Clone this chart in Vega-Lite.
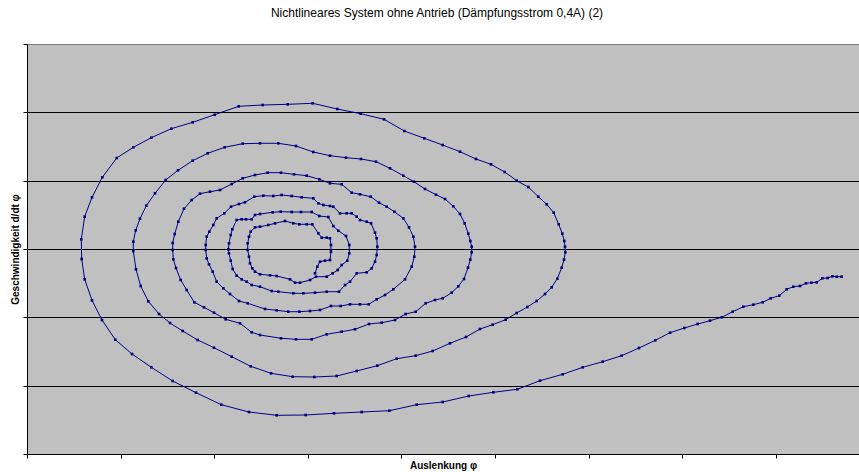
{
  "$schema": "https://vega.github.io/schema/vega-lite/v6.json",
  "width": 832,
  "height": 410,
  "autosize": "none",
  "padding": {"left": 27, "top": 44, "right": 0, "bottom": 18},
  "background": "white",
  "config": {
    "view": {"fill": "#C0C0C0", "stroke": "#808080", "strokeWidth": 1},
    "font": "Liberation Sans"
  },
  "title": {
    "text": "Nichtlineares System ohne Antrieb (Dämpfungsstrom 0,4A) (2)",
    "fontSize": 12,
    "fontWeight": "normal",
    "font": "Liberation Sans",
    "color": "black",
    "offset": 24,
    "dx": -6
  },
  "data": {
    "values": [
      {"o":0,"x":814.7,"y":-27.7},{"o":1,"x":809.7,"y":-27.7},{"o":2,"x":805.3,"y":-27.3},{"o":3,"x":800.7,"y":-29},{"o":4,"x":795.3,"y":-29.3},
      {"o":5,"x":789.7,"y":-33.3},{"o":6,"x":784.3,"y":-33.7},{"o":7,"x":779,"y":-34.3},{"o":8,"x":773,"y":-37},{"o":9,"x":766.3,"y":-37.7},
      {"o":10,"x":759.7,"y":-40.3},{"o":11,"x":752.3,"y":-46.7},{"o":12,"x":743.7,"y":-49.3},{"o":13,"x":735.7,"y":-53.3},{"o":14,"x":726.3,"y":-55.7},
      {"o":15,"x":716.3,"y":-57.7},{"o":16,"x":705.7,"y":-62.7},{"o":17,"x":694.7,"y":-68.3},{"o":18,"x":683,"y":-71.7},{"o":19,"x":670.7,"y":-75},
      {"o":20,"x":657.3,"y":-79},{"o":21,"x":643,"y":-83.7},{"o":22,"x":628.3,"y":-91.3},{"o":23,"x":612,"y":-99},{"o":24,"x":594.7,"y":-106.7},
      {"o":25,"x":575.7,"y":-112.7},{"o":26,"x":555.7,"y":-118.3},{"o":27,"x":535.7,"y":-125.3},{"o":28,"x":513,"y":-131.7},{"o":29,"x":490.3,"y":-140.3},
      {"o":30,"x":466.3,"y":-143.3},{"o":31,"x":441.7,"y":-147},{"o":32,"x":415.7,"y":-153},{"o":33,"x":389.7,"y":-155.7},{"o":34,"x":362.3,"y":-161.7},
      {"o":35,"x":334.7,"y":-163},{"o":36,"x":307,"y":-164.3},{"o":37,"x":278.7,"y":-166},{"o":38,"x":249.7,"y":-166.3},{"o":39,"x":222,"y":-163},
      {"o":40,"x":194.3,"y":-155.7},{"o":41,"x":169,"y":-143.7},{"o":42,"x":145.7,"y":-132},{"o":43,"x":124.3,"y":-118.3},{"o":44,"x":105,"y":-105},
      {"o":45,"x":88.3,"y":-90.7},{"o":46,"x":75,"y":-71},{"o":47,"x":65,"y":-51.3},{"o":48,"x":57.7,"y":-30.3},{"o":49,"x":54.7,"y":-10},
      {"o":50,"x":54.3,"y":9.7},{"o":51,"x":57.7,"y":32.3},{"o":52,"x":65,"y":51.7},{"o":53,"x":75.3,"y":71.7},{"o":54,"x":89.7,"y":91},
      {"o":55,"x":106.3,"y":101.7},{"o":56,"x":124.3,"y":111.3},{"o":57,"x":144.3,"y":120.3},{"o":58,"x":165.7,"y":126.7},{"o":59,"x":187.7,"y":134.3},
      {"o":60,"x":211.7,"y":142.7},{"o":61,"x":235.7,"y":144},{"o":62,"x":260.7,"y":144.7},{"o":63,"x":285.7,"y":145.7},{"o":64,"x":310.3,"y":140},
      {"o":65,"x":333.7,"y":135.3},{"o":66,"x":357,"y":129.7},{"o":67,"x":377.3,"y":118},{"o":68,"x":397.3,"y":110.7},{"o":69,"x":415.7,"y":104},
      {"o":70,"x":433,"y":97.3},{"o":71,"x":449,"y":90},{"o":72,"x":464,"y":84.7},{"o":73,"x":477.7,"y":77},{"o":74,"x":489.7,"y":68.3},
      {"o":75,"x":501.3,"y":62},{"o":76,"x":511.3,"y":52.3},{"o":77,"x":519.7,"y":44.7},{"o":78,"x":526.7,"y":36.3},{"o":79,"x":531.7,"y":24.7},
      {"o":80,"x":535.3,"y":15.3},{"o":81,"x":537.3,"y":8},{"o":82,"x":538,"y":2.3},{"o":83,"x":538.3,"y":-3.3},{"o":84,"x":537,"y":-10.7},
      {"o":85,"x":534.7,"y":-18.7},{"o":86,"x":530.3,"y":-29.7},{"o":87,"x":524.7,"y":-38.3},{"o":88,"x":518,"y":-45},{"o":89,"x":509.7,"y":-52},
      {"o":90,"x":500.3,"y":-58},{"o":91,"x":489.7,"y":-64},{"o":92,"x":478.7,"y":-70.7},{"o":93,"x":465.7,"y":-75.7},{"o":94,"x":453,"y":-80},
      {"o":95,"x":439,"y":-88},{"o":96,"x":423,"y":-94.3},{"o":97,"x":405.7,"y":-102},{"o":98,"x":388.7,"y":-106.7},{"o":99,"x":369.7,"y":-109.7},
      {"o":100,"x":350.3,"y":-116.7},{"o":101,"x":329.7,"y":-122},{"o":102,"x":309.7,"y":-127},{"o":103,"x":287.3,"y":-128},{"o":104,"x":265.7,"y":-127.7},
      {"o":105,"x":244,"y":-124.3},{"o":106,"x":223.7,"y":-117.3},{"o":107,"x":204.7,"y":-107.7},{"o":108,"x":187,"y":-98.7},{"o":109,"x":170.7,"y":-91},
      {"o":110,"x":155.7,"y":-82},{"o":111,"x":143,"y":-74},{"o":112,"x":132,"y":-65},{"o":113,"x":121.3,"y":-52.3},{"o":114,"x":113.7,"y":-37},
      {"o":115,"x":109,"y":-20.3},{"o":116,"x":106.3,"y":-2},{"o":117,"x":106.3,"y":7.3},{"o":118,"x":108.7,"y":18.7},{"o":119,"x":113,"y":30.3},
      {"o":120,"x":119.3,"y":43.3},{"o":121,"x":128,"y":55.7},{"o":122,"x":138.7,"y":69},{"o":123,"x":151,"y":78.7},{"o":124,"x":165.7,"y":88.3},
      {"o":125,"x":180.7,"y":95.7},{"o":126,"x":197.7,"y":101.7},{"o":127,"x":215.7,"y":105.3},{"o":128,"x":233,"y":105.7},{"o":129,"x":251.3,"y":105.7},
      {"o":130,"x":269,"y":103},{"o":131,"x":286.3,"y":97},{"o":132,"x":303,"y":93.3},{"o":133,"x":319,"y":91.3},{"o":134,"x":334,"y":90},
      {"o":135,"x":349,"y":87.3},{"o":136,"x":363,"y":80.7},{"o":137,"x":376.3,"y":73.3},{"o":138,"x":387,"y":67.3},{"o":139,"x":398,"y":60},
      {"o":140,"x":409,"y":54.3},{"o":141,"x":418,"y":50},{"o":142,"x":426.3,"y":42.7},{"o":143,"x":433,"y":35},{"o":144,"x":437.7,"y":25.7},
      {"o":145,"x":441.3,"y":15.3},{"o":146,"x":443.3,"y":8},{"o":147,"x":444.7,"y":2.3},{"o":148,"x":444.7,"y":-3.3},{"o":149,"x":443.3,"y":-10.7},
      {"o":150,"x":441,"y":-18.7},{"o":151,"x":437,"y":-30},{"o":152,"x":431.3,"y":-37.3},{"o":153,"x":424.7,"y":-43.7},{"o":154,"x":415.7,"y":-49.3},
      {"o":155,"x":408,"y":-51},{"o":156,"x":398.7,"y":-54.3},{"o":157,"x":388.7,"y":-62.7},{"o":158,"x":378.7,"y":-65},{"o":159,"x":368,"y":-71},
      {"o":160,"x":354.7,"y":-73.7},{"o":161,"x":342,"y":-75},{"o":162,"x":328,"y":-80.3},{"o":163,"x":314.7,"y":-82.7},{"o":164,"x":299.7,"y":-85.3},
      {"o":165,"x":284.7,"y":-90.3},{"o":166,"x":269,"y":-90.3},{"o":167,"x":254,"y":-89.3},{"o":168,"x":233,"y":-86},{"o":169,"x":224.7,"y":-83.3},
      {"o":170,"x":213,"y":-74.3},{"o":171,"x":198.7,"y":-70.3},{"o":172,"x":187,"y":-63.7},{"o":173,"x":177,"y":-58.3},{"o":174,"x":167.3,"y":-53.3},
      {"o":175,"x":159.7,"y":-41},{"o":176,"x":153.7,"y":-31},{"o":177,"x":149,"y":-19},{"o":178,"x":146.3,"y":-10.3},{"o":179,"x":145.7,"y":-1},
      {"o":180,"x":145.7,"y":6},{"o":181,"x":147.7,"y":15},{"o":182,"x":151.3,"y":27.3},{"o":183,"x":157,"y":40.3},{"o":184,"x":164.7,"y":49},
      {"o":185,"x":173,"y":55.3},{"o":186,"x":183,"y":57.3},{"o":187,"x":193,"y":59},{"o":188,"x":204.7,"y":65},{"o":189,"x":215.7,"y":70.7},
      {"o":190,"x":228,"y":74},{"o":191,"x":240.7,"y":76.3},{"o":192,"x":254,"y":76.3},{"o":193,"x":267,"y":74.7},{"o":194,"x":279.7,"y":73.3},
      {"o":195,"x":292.3,"y":69.7},{"o":196,"x":303,"y":65.7},{"o":197,"x":314.7,"y":64.7},{"o":198,"x":324.7,"y":56.3},{"o":199,"x":333,"y":54.7},
      {"o":200,"x":343.7,"y":52.3},{"o":201,"x":352,"y":46.3},{"o":202,"x":359.7,"y":42.3},{"o":203,"x":367.3,"y":37.3},{"o":204,"x":376.3,"y":30.7},
      {"o":205,"x":382,"y":21.7},{"o":206,"x":386.3,"y":12.3},{"o":207,"x":388,"y":2.3},{"o":208,"x":387.3,"y":-7.7},{"o":209,"x":384.7,"y":-17.7},
      {"o":210,"x":378,"y":-30.3},{"o":211,"x":366.3,"y":-40.3},{"o":212,"x":358,"y":-46},{"o":213,"x":349.7,"y":-50.3},{"o":214,"x":341.7,"y":-55.3},
      {"o":215,"x":333,"y":-55.3},{"o":216,"x":323,"y":-55.3},{"o":217,"x":313.7,"y":-57},{"o":218,"x":304,"y":-57},{"o":219,"x":293,"y":-61},
      {"o":220,"x":283,"y":-62},{"o":221,"x":272.3,"y":-62.7},{"o":222,"x":261.3,"y":-62.7},{"o":223,"x":249.7,"y":-61.3},{"o":224,"x":238,"y":-60},
      {"o":225,"x":220.7,"y":-54.3},{"o":226,"x":212,"y":-52},{"o":227,"x":203,"y":-45},{"o":228,"x":196.3,"y":-39.3},{"o":229,"x":189.7,"y":-32.7},
      {"o":230,"x":185.7,"y":-22.7},{"o":231,"x":182,"y":-15.3},{"o":232,"x":179.7,"y":-9.3},{"o":233,"x":178.7,"y":-1},{"o":234,"x":178.7,"y":4},
      {"o":235,"x":179.7,"y":12.3},{"o":236,"x":182.3,"y":17.3},{"o":237,"x":186.3,"y":24},{"o":238,"x":189.7,"y":30.7},{"o":239,"x":197.3,"y":35.7},
      {"o":240,"x":204,"y":42.3},{"o":241,"x":212,"y":45},{"o":242,"x":218,"y":46.7},{"o":243,"x":227.3,"y":52.3},{"o":244,"x":236.3,"y":53.3},
      {"o":245,"x":246.3,"y":53},{"o":246,"x":254.7,"y":54},{"o":247,"x":264.7,"y":53},{"o":248,"x":274.7,"y":51.7},{"o":249,"x":286.3,"y":50.7},
      {"o":250,"x":291.3,"y":45.7},{"o":251,"x":296.3,"y":44},{"o":252,"x":303,"y":43},{"o":253,"x":306.3,"y":42.3},{"o":254,"x":313,"y":35.7},
      {"o":255,"x":319.7,"y":35.7},{"o":256,"x":324.7,"y":35.7},{"o":257,"x":329.7,"y":32.3},{"o":258,"x":333,"y":29},{"o":259,"x":339.7,"y":27.3},
      {"o":260,"x":344,"y":25.7},{"o":261,"x":348,"y":16.3},{"o":262,"x":349.7,"y":10.7},{"o":263,"x":350.3,"y":2.3},{"o":264,"x":349.7,"y":-6},
      {"o":265,"x":348,"y":-12.7},{"o":266,"x":344.7,"y":-19.3},{"o":267,"x":339.7,"y":-23.3},{"o":268,"x":329.7,"y":-24.3},{"o":269,"x":323,"y":-32.7},
      {"o":270,"x":318,"y":-36},{"o":271,"x":312,"y":-42.7},{"o":272,"x":299.7,"y":-42.7},{"o":273,"x":288,"y":-43.7},{"o":274,"x":276.3,"y":-44.3},
      {"o":275,"x":266.3,"y":-44.3},{"o":276,"x":251.3,"y":-42.7},{"o":277,"x":244.7,"y":-42},{"o":278,"x":233,"y":-37.7},{"o":279,"x":224.7,"y":-36},
      {"o":280,"x":219.7,"y":-32.7},{"o":281,"x":214.7,"y":-30.3},{"o":282,"x":209.7,"y":-26.7},{"o":283,"x":205.7,"y":-20},{"o":284,"x":203.7,"y":-11.7},
      {"o":285,"x":202,"y":-4.3},{"o":286,"x":201.3,"y":-0.3},{"o":287,"x":202,"y":5.7},{"o":288,"x":203.7,"y":14},{"o":289,"x":205.3,"y":19.7},
      {"o":290,"x":209.7,"y":29},{"o":291,"x":214.7,"y":29.7},{"o":292,"x":219,"y":29.7},{"o":293,"x":224.7,"y":29.7},{"o":294,"x":228,"y":34},
      {"o":295,"x":233,"y":35},{"o":296,"x":245.7,"y":36.7},{"o":297,"x":253.7,"y":37.3},{"o":298,"x":264.7,"y":37},{"o":299,"x":274,"y":37},
      {"o":300,"x":284.7,"y":37},{"o":301,"x":292.3,"y":33},{"o":302,"x":301.3,"y":32},{"o":303,"x":306.3,"y":23},{"o":304,"x":311.3,"y":18.3},
      {"o":305,"x":319,"y":13},{"o":306,"x":322.3,"y":4},{"o":307,"x":322.3,"y":-4.3},{"o":308,"x":320.3,"y":-11.7},{"o":309,"x":314.7,"y":-16},
      {"o":310,"x":310.7,"y":-21},{"o":311,"x":305.7,"y":-24.3},{"o":312,"x":299.7,"y":-27.7},{"o":313,"x":289,"y":-27.7},{"o":314,"x":283,"y":-31},
      {"o":315,"x":273,"y":-33.7},{"o":316,"x":268,"y":-33.7},{"o":317,"x":263,"y":-30.3},{"o":318,"x":249.7,"y":-27},{"o":319,"x":243,"y":-26.3},
      {"o":320,"x":233,"y":-25.3},{"o":321,"x":228,"y":-22.7},{"o":322,"x":225.3,"y":-19.3},{"o":323,"x":223,"y":-14.3},{"o":324,"x":222,"y":-7.7},
      {"o":325,"x":220.7,"y":-1},{"o":326,"x":220.7,"y":5.7},{"o":327,"x":222,"y":12.3},{"o":328,"x":223.7,"y":17.3},{"o":329,"x":228,"y":21.7},
      {"o":330,"x":233,"y":22.3},{"o":331,"x":241.3,"y":24},{"o":332,"x":248,"y":25.7},{"o":333,"x":258,"y":28},{"o":334,"x":266.3,"y":25.7},
      {"o":335,"x":272.3,"y":24.7},{"o":336,"x":279.7,"y":24.7},{"o":337,"x":285.3,"y":24.7},{"o":338,"x":291.3,"y":15.7},{"o":339,"x":294.7,"y":11.3},
      {"o":340,"x":299.7,"y":11.3},{"o":341,"x":303,"y":10.7},{"o":342,"x":304,"y":4},{"o":343,"x":304,"y":-2.7},{"o":344,"x":303,"y":-11},
      {"o":345,"x":298,"y":-11.7},{"o":346,"x":293,"y":-12.7},{"o":347,"x":290.3,"y":-17.7},{"o":348,"x":288,"y":-24.3}
    ]
  },
  "encoding": {
    "x": {
      "field": "x", "type": "quantitative",
      "scale": {"domain": [0, 832], "nice": false, "zero": false},
      "axis": {
        "title": "Auslenkung φ",
        "titleFontSize": 10, "titleFontWeight": "bold", "titleFont": "Liberation Sans", "titleColor": "black",
        "titlePadding": 2,
        "labels": false, "grid": false,
        "values": [0, 93.6, 187.2, 280.8, 374.4, 468, 561.6, 655.2, 748.8],
        "ticks": true, "tickSize": 4, "tickColor": "black", "domainColor": "black"
      }
    },
    "y": {
      "field": "y", "type": "quantitative",
      "scale": {"domain": [-205, 205], "nice": false, "zero": false},
      "axis": {
        "title": "Geschwindigkeit d/dt φ",
        "titleFontSize": 10, "titleFontWeight": "bold", "titleFont": "Liberation Sans", "titleColor": "black",
        "titlePadding": 2,
        "labels": false,
        "values": [-205, -136.67, -68.33, 0, 68.33, 136.67, 205],
        "grid": true,
        "gridColor": {"condition": {"test": "datum.value >= 200", "value": "#808080"}, "value": "#000000"},
        "gridOpacity": 1,
        "ticks": true, "tickSize": 4, "tickColor": "black", "domainColor": "black"
      }
    },
    "order": {"field": "o", "type": "quantitative"}
  },
  "layer": [
    {"mark": {"type": "line", "color": "#000080", "strokeWidth": 1}},
    {"mark": {"type": "point", "shape": "square", "filled": true, "color": "#000080", "size": 7, "opacity": 1}}
  ]
}
